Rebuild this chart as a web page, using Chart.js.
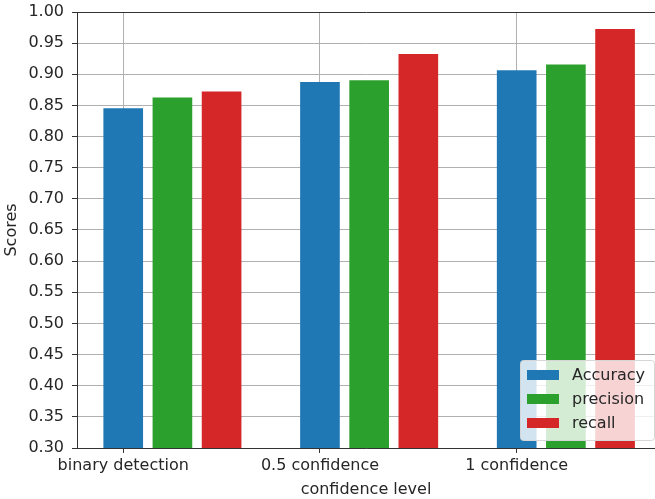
<!DOCTYPE html>
<html>
<head>
<meta charset="utf-8">
<script src="https://cdn.jsdelivr.net/npm/chart.js@4.4.1/dist/chart.umd.min.js"></script>
<style>
  html, body { margin: 0; padding: 0; background: #fff; overflow: hidden; }
  #wrap { width: 655px; height: 499px; position: relative; }
</style>
</head>
<body>
<div id="wrap"><canvas id="chart"></canvas></div>
<script>
// data
const categories = ["binary detection", "0.5 confidence", "1 confidence"];
const seriesNames = ["Accuracy", "precision", "recall"];
const accuracy = [0.845, 0.887, 0.906];
const precision = [0.862, 0.890, 0.915];
const recall = [0.872, 0.932, 0.972];
const yTicks = [0.30, 0.35, 0.40, 0.45, 0.50, 0.55, 0.60, 0.65, 0.70, 0.75, 0.80, 0.85, 0.90, 0.95, 1.00];

const colors = ["#1f77b4", "#2ca02c", "#d62728"];
const barStep = 0.25; // like matplotlib x + i*width
const allSeries = [accuracy, precision, recall];

const FONT = "'DejaVu Sans', sans-serif";
Chart.defaults.font.family = FONT;
Chart.defaults.font.size = 16;
Chart.defaults.color = "#262626";

const datasets = allSeries.map(function (vals, s) {
  return {
    label: seriesNames[s],
    data: vals.map((v, i) => ({ x: i + s * barStep, y: v })),
    backgroundColor: colors[s],
    borderWidth: 0,
    barThickness: 39,
    grouped: false,
  };
});

// matplotlib style legend inside the plot, lower right
const insideLegend = {
  id: "insideLegend",
  afterDraw(chart) {
    const ctx = chart.ctx;
    const x0 = 520, y0 = 360, w = 134, h = 80;
    ctx.save();
    ctx.fillStyle = "rgba(255,255,255,0.8)";
    ctx.strokeStyle = "#d6d6d6";
    ctx.lineWidth = 1;
    ctx.beginPath();
    ctx.roundRect(x0 + 0.5, y0 + 0.5, w, h, 3);
    ctx.fill();
    ctx.stroke();
    ctx.font = "16px " + FONT;
    ctx.textBaseline = "middle";
    chart.data.datasets.forEach(function (ds, i) {
      const cy = 375 + i * 24;
      ctx.fillStyle = ds.backgroundColor;
      ctx.fillRect(527, cy - 5, 32, 10);
      ctx.fillStyle = "#262626";
      ctx.fillText(ds.label, 572, cy + 1);
    });
    ctx.restore();
  }
};

new Chart(document.getElementById("chart"), {
  type: "bar",
  data: { datasets: datasets },
  options: {
    responsive: true,
    maintainAspectRatio: false,
    animation: false,
    layout: { padding: 0 },
    plugins: {
      legend: { display: false },
      tooltip: { enabled: false },
    },
    scales: {
      x: {
        type: "linear",
        offset: false,
        min: -0.235,
        max: 2.703,
        afterBuildTicks(axis) {
          axis.ticks = categories.map((c, i) => ({ value: i }));
        },
        afterFit(axis) {
          axis.height = 51;
          axis.paddingLeft = 0;
          axis.paddingRight = 0;
        },
        ticks: {
          callback: (v) => categories[v],
          padding: 3,
          maxRotation: 0,
          autoSkip: false,
        },
        grid: { offset: false, color: "#b0b0b0", tickColor: "#333", tickLength: 5 },
        border: { color: "#333", width: 1 },
        title: { display: true, text: "confidence level", padding: { top: 0, bottom: 0 } },
      },
      y: {
        min: 0.30,
        max: 1.00,
        afterBuildTicks(axis) {
          axis.ticks = yTicks.map((v) => ({ value: v }));
        },
        afterFit(axis) {
          axis.width = 77;
          axis.paddingTop = 12;
          axis.paddingBottom = 0;
        },
        ticks: {
          callback: (v) => v.toFixed(2),
          padding: 8,
        },
        grid: {
          color: (c) => (c.tick && Math.abs(c.tick.value - 1.0) < 1e-6 ? "#333" : "#b0b0b0"),
          tickColor: "#333",
          tickLength: 5,
        },
        border: { color: "#333", width: 1 },
        title: { display: true, text: "Scores", padding: { top: 2.4, bottom: 2.4 } },
      },
    },
  },
  plugins: [insideLegend],
});
</script>
</body>
</html>
